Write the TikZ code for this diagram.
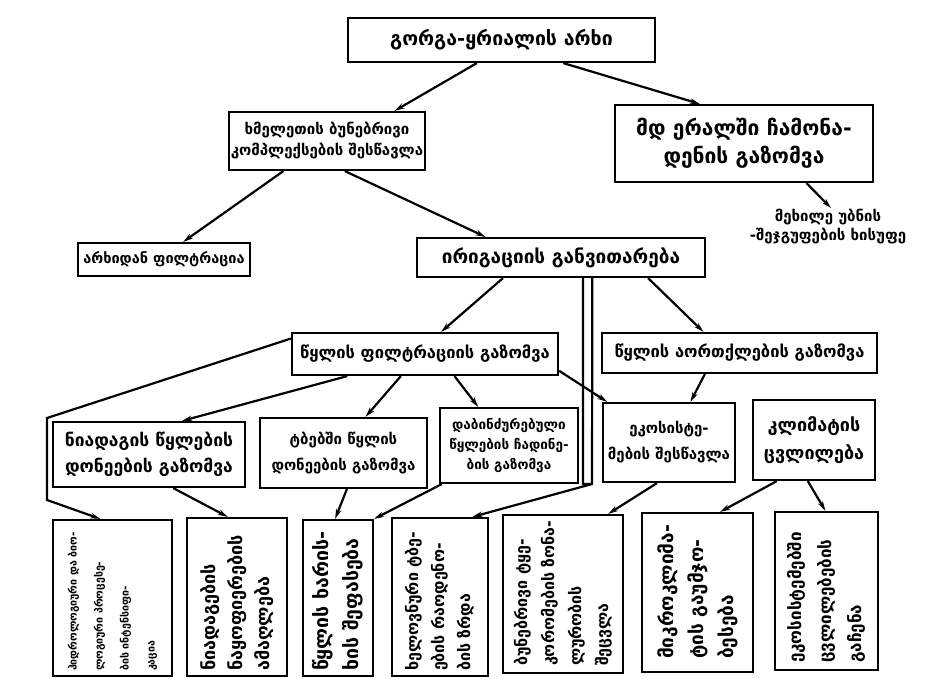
\documentclass[tikz,border=0pt]{standalone}
\usepackage{fontspec}
\setmainfont{DejaVu Sans}
\usetikzlibrary{calc,arrows.meta}

\newcommand\fsz[2]{\bfseries\fontsize{#1}{#2}\selectfont}

\begin{document}
\begin{tikzpicture}[x=1pt,y=-1pt,
  box/.style={draw, line width=2.2pt, inner sep=2pt, align=center},
  vbox/.style={draw, line width=2.2pt, inner sep=0pt},
  vtext/.style={rotate=90, align=left, inner sep=0pt, anchor=west},
  link/.style={line width=2.2pt, -{Stealth[length=10pt,width=5.5pt]}},
  plain/.style={line width=2.2pt},
]
\useasboundingbox[fill=white] (0,0) rectangle (926,678);

% ---------- upper levels ----------
\node[box, minimum width=307pt, minimum height=44pt, font=\fsz{19.5}{24}]
  (top) at (501.5,40) {გორგა-ყრიალის არხი};
\node[box, minimum width=190pt, minimum height=58pt, font=\fsz{15}{21}]
  (land) at (327,141) {ხმელეთის ბუნებრივი\\კომპლექსების შესწავლა};
\node[box, minimum width=258pt, minimum height=77pt, font=\fsz{21}{28}]
  (river) at (744,143.5) {მდ ერალში ჩამონა-\\დენის გაზომვა};
\node[font=\fsz{15}{19}, align=center]
  (ann) at (828,227) {მეხილე უბნის\\-შეჯგუფების ხისუფე};

\node[box, minimum width=172pt, minimum height=33pt, font=\fsz{14.5}{18}]
  (canal) at (164,259.5) {არხიდან ფილტრაცია};
\node[box, minimum width=288pt, minimum height=39pt, font=\fsz{19}{23}]
  (irr) at (561,257.5) {ირიგაციის განვითარება};

\node[box, minimum width=266pt, minimum height=42pt, font=\fsz{16.5}{20}]
  (filt) at (425,354) {წყლის ფილტრაციის გაზომვა};
\node[box, minimum width=275pt, minimum height=40pt, font=\fsz{16.5}{20}]
  (evap) at (739.5,353) {წყლის აორთქლების გაზომვა};

\node[box, minimum width=192pt, minimum height=65pt, font=\fsz{17.5}{26}]
  (soil) at (149,454.5) {ნიადაგის წყლების\\დონეების გაზომვა};
\node[box, minimum width=167pt, minimum height=70pt, font=\fsz{15}{26}]
  (lake) at (343.5,453) {ტბებში წყლის\\დონეების გაზომვა};
\node[box, minimum width=138pt, minimum height=75pt, font=\fsz{13.5}{20}]
  (poll) at (509,445.5) {დაბინძურებული\\წყლების ჩადინე-\\ბის გაზომვა};
\node[box, minimum width=132pt, minimum height=79pt, font=\fsz{15}{26}]
  (eco) at (669,442.5) {ეკოსისტე-\\მების შესწავლა};
\node[box, minimum width=122pt, minimum height=80pt, font=\fsz{18}{28}]
  (clim) at (814,440) {კლიმატის\\ცვლილება};

% ---------- bottom row (vertical lettering) ----------
\node[vbox, minimum width=119pt, minimum height=156pt] (r1) at (112.5,598) {};
\node[vtext, font=\fsz{10.6}{26}] at ($(r1.south)+(0,-6)$)
  {ჰიდროლოგიური და ბიო-\\ლოგიური პროცესე-\\ბის ინტენსიფი-\\კაცია};
\node[vbox, minimum width=100pt, minimum height=158pt] (r2) at (237,597) {};
\node[vtext, font=\fsz{18}{27}] at ($(r2.south)+(0,-6)$)
  {ნიადაგების\\ნაყოფიერების\\ამაღლება};
\node[vbox, minimum width=70pt, minimum height=156pt] (r3) at (338,598) {};
\node[vtext, font=\fsz{19.5}{30}] at ($(r3.south)+(0,-6)$)
  {წყლის ხარის-\\ხის შეფასება};
\node[vbox, minimum width=96pt, minimum height=158pt] (r4) at (440,597) {};
\node[vtext, font=\fsz{16}{26}] at ($(r4.south)+(0,-6)$)
  {ხელოვნური ტბე-\\ების რაოდენო-\\ბის ზრდა};
\node[vbox, minimum width=120pt, minimum height=158pt] (r5) at (563,594) {};
\node[vtext, font=\fsz{16}{27}] at ($(r5.south)+(0,-8)$)
  {ბუნებრივი ტყე-\\კორომების ზონა-\\ლურობის\\შეცვლა};
\node[vbox, minimum width=111pt, minimum height=159pt] (r6) at (697.5,592.5) {};
\node[vtext, font=\fsz{19}{30}] at ($(r6.south)+(0,-14)$)
  {მიკროკლიმა-\\ტის გაუმჯო-\\ბესება};
\node[vbox, minimum width=103pt, minimum height=158pt] (r7) at (826.5,591) {};
\node[vtext, font=\fsz{17}{30}] at ($(r7.south)+(0,-8)$)
  {ეკოსისტემებში\\ცვლილებების\\გაჩენა};

% ---------- connectors ----------
\draw[link] ($(top.south west)!0.42!(top.south east)$) -- ($(land.north west)!0.84!(land.north east)$);
\draw[link] ($(top.south west)!0.70!(top.south east)$) -- ($(river.north west)!0.33!(river.north east)$);
\draw[link] ($(river.south west)!0.74!(river.south east)$) -- ($(ann.north)+(3,2)$);

\draw[link] ($(land.south west)!0.28!(land.south east)$) -- ($(canal.north west)!0.61!(canal.north east)$);
\draw[link] ($(land.south west)!0.59!(land.south east)$) -- ($(irr.north west)!0.24!(irr.north east)$);

\draw[link] ($(irr.south west)!0.30!(irr.south east)$) -- ($(filt.north west)!0.56!(filt.north east)$);
\draw[link] ($(irr.south west)!0.80!(irr.south east)$) -- ($(evap.north west)!0.37!(evap.north east)$);
% double line running down past the measurements
\draw[plain] ($(irr.south west)!0.576!(irr.south east)$) -- (583,484) -- (592,484);
\draw[link] ($(irr.south west)!0.608!(irr.south east)$) -- (592,484)
  -- ($(r4.north west)!0.83!(r4.north east)$);

\draw[link] ($(filt.south west)!0.21!(filt.south east)$) -- ($(soil.north west)!0.67!(soil.north east)$);
\draw[link] ($(filt.north west)!0.15!(filt.south west)$) -- (47,418) -- (47,500)
  -- ($(r1.north west)!0.40!(r1.north east)$);
\draw[link] ($(filt.south west)!0.41!(filt.south east)$) -- ($(lake.north west)!0.63!(lake.north east)$);
\draw[link] ($(filt.south west)!0.61!(filt.south east)$) -- ($(poll.north west)!0.28!(poll.north east)$);
\draw[link] ($(filt.north east)!0.88!(filt.south east)$) -- ($(eco.north west)!0.04!(eco.north east)$);
\draw[link] ($(evap.south west)!0.375!(evap.south east)$) -- ($(eco.north west)!0.66!(eco.north east)$);

\draw[link] ($(soil.south west)!0.625!(soil.south east)$) -- ($(r2.north west)!0.41!(r2.north east)$);
\draw[link] ($(lake.south west)!0.52!(lake.south east)$) -- ($(r3.north west)!0.46!(r3.north east)$);
\draw[link] ($(poll.south west)!0.02!(poll.south east)$) -- (r3.north east);
\draw[link] ($(eco.south west)!0.41!(eco.south east)$) -- ($(r5.north west)!0.87!(r5.north east)$);
\draw[link] ($(clim.south west)!0.20!(clim.south east)$) -- ($(r6.north west)!0.70!(r6.north east)$);
\draw[link] ($(clim.south west)!0.45!(clim.south east)$) -- ($(r7.north west)!0.49!(r7.north east)$);
\end{tikzpicture}
\end{document}
